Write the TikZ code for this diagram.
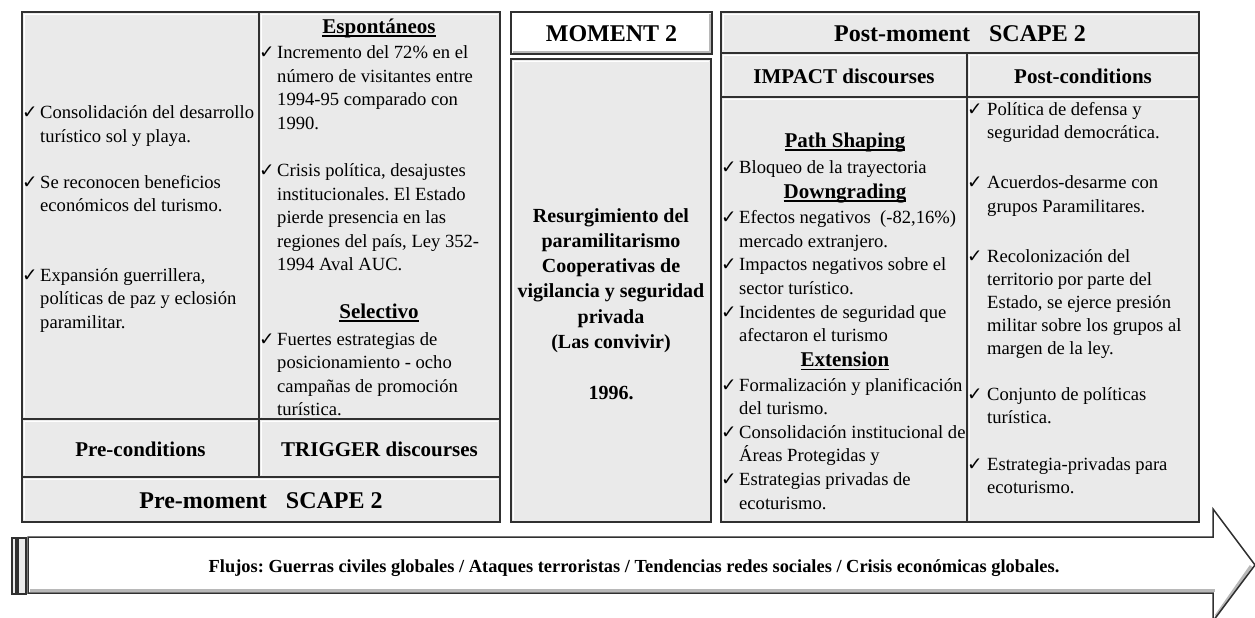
\documentclass[tikz,border=0pt]{standalone}
\usepackage{fontspec}
\setmainfont{Liberation Serif}
\newfontfamily\ckfont{DejaVu Sans}
\definecolor{cellgray}{HTML}{EAEAEA}
\definecolor{framecol}{HTML}{303030}
\definecolor{shadecol}{HTML}{B8B8B8}
\frenchspacing
\newcommand{\ck}{\makebox[17pt][l]{\hspace*{-1pt}\ckfont\fontsize{18.5}{18.5}\selectfont ✓}}
\newcommand{\cks}{\makebox[19pt][l]{\hspace*{-1pt}\ckfont\fontsize{18.5}{18.5}\selectfont ✓}}
\newcommand{\lns}[2]{\vtop{\fontsize{18.6}{#1}\selectfont\lineskiplimit=-50pt\lineskip=0pt\halign{##\hfil&##\hfil\cr #2\crcr}}}
\newcommand{\ctrlns}[2]{\vtop{\fontsize{20}{#1}\selectfont\bfseries\lineskiplimit=-50pt\lineskip=0pt\halign{\hfil##\hfil\cr #2\crcr}}}
\newcommand{\undl}[1]{\setbox0\hbox{#1}\rlap{\rule[-3.5pt]{\wd0}{1.5pt}}\box0}
\begin{document}
\begin{tikzpicture}[x=1pt,y=-1pt,
  cell/.style={fill=cellgray},
  whitecell/.style={fill=white},
  frame/.style={draw=framecol, line width=1.5pt},
  hilite/.style={draw=white, line width=1.5pt},
  shadeln/.style={draw=shadecol, line width=2pt},
  txt/.style={inner sep=0pt, anchor=base west},
  ctr/.style={inner sep=0pt, anchor=base},
  hbig/.style={font=\fontsize{24}{28}\selectfont\bfseries},
  hmed/.style={font=\fontsize{21}{25}\selectfont\bfseries},
  hfoot/.style={font=\fontsize{18.4}{22}\selectfont\bfseries},
  ]
\useasboundingbox (0,0) rectangle (1255,618);
\fill[white] (0,0) rectangle (1255,618);

% ---------- Left panel ----------
\fill[cell] (22,12) rectangle (500,522);
\foreach \xa/\ya/\xb/\yb in {22/12/259/419, 259/12/500/419, 22/419/259/477, 259/419/500/477, 22/477/500/522}
  \draw[hilite] (\xa+2.5,\yb-2.5) -- (\xa+2.5,\ya+2.5) -- (\xb-2.5,\ya+2.5);
\draw[frame] (22,12) rectangle (500,522);
\draw[frame] (259,12) -- (259,477);
\draw[frame] (22,419) -- (500,419);
\draw[frame] (22,477) -- (500,477);

% ---------- Middle panel ----------
\fill[whitecell] (511,12) rectangle (712,54);
\draw[shadeln, line width=1.5pt] (513,51.8) -- (709.8,51.8) -- (709.8,14);
\fill[cell] (511,59) rectangle (711,522);
\draw[hilite] (513.5,519.5) -- (513.5,61.5) -- (708.5,61.5);
\draw[frame] (511,12) rectangle (712,54);
\draw[frame] (511,59) rectangle (711,522);

% ---------- Right panel ----------
\fill[cell] (721,12) rectangle (1199,522);
\foreach \xa/\ya/\xb/\yb in {721/12/1199/53, 721/53/967/97, 967/53/1199/97, 721/97/967/522, 967/97/1199/522}
  \draw[hilite] (\xa+2.5,\yb-2.5) -- (\xa+2.5,\ya+2.5) -- (\xb-2.5,\ya+2.5);
\draw[frame] (721,12) rectangle (1199,522);
\draw[frame] (721,53) -- (1199,53);
\draw[frame] (721,97) -- (1199,97);
\draw[frame] (967,53) -- (967,522);

% ---------- Bottom arrow ----------
\fill[cellgray] (12,538) rectangle (16,594);
\draw[framecol, line width=1.2pt] (12,538) rectangle (16,594);
\fill[cellgray] (18,538) rectangle (26,594);
\draw[framecol, line width=1.2pt] (18,538) rectangle (26,594);
\fill[white] (28,537) -- (1213,537) -- (1213,509) -- (1255,565) -- (1213,621) -- (1213,593) -- (28,593) -- cycle;
\draw[shadeln, line width=3pt] (30,590) -- (1215,590);
\draw[shadeln, line width=3pt] (1216,616) -- (1251,566);
\draw[frame] (28,537) -- (1213,537) -- (1213,509) -- (1255,565) -- (1213,621) -- (1213,593) -- (28,593) -- cycle;

% ---------- Left texts ----------
\node[txt] (pc1) at (23,118.8) {\lns{23.4}{\ck & Consolidación del desarrollo\cr & turístico sol y playa.}};
\node[txt] (pc2) at (23,188.5) {\lns{23.4}{\ck & Se reconocen beneficios\cr & económicos del turismo.}};
\node[txt] (pc3) at (23,281.5) {\lns{23.4}{\ck & Expansión guerrillera,\cr & políticas de paz y eclosión\cr & paramilitar.}};

\node[ctr, hmed] (esp) at (379,33.5) {\undl{Espontáneos}};
\node[txt] (es1) at (260,59) {\lns{23.5}{\ck & Incremento del 72\% en el\cr & número de visitantes entre\cr & 1994-95 comparado con\cr & 1990.}};
\node[txt] (es2) at (260,176.5) {\lns{23.5}{\ck & Crisis política, desajustes\cr & institucionales. El Estado\cr & pierde presencia en las\cr & regiones del país, Ley 352-\cr & 1994 Aval AUC.}};
\node[ctr, hmed] (sel) at (379,318) {\undl{Selectivo}};
\node[txt] (se1) at (260,345) {\lns{23.5}{\ck & Fuertes estrategias de\cr & posicionamiento - ocho\cr & campañas de promoción\cr & turística.}};

\node[ctr, hmed] (prec) at (140.5,456) {Pre-conditions};
\node[ctr, hmed] (trig) at (379.5,456) {TRIGGER discourses};
\node[ctr, hbig] (prem) at (261,508.5) {Pre-moment\hspace{13pt} SCAPE 2};

% ---------- Middle texts ----------
\node[ctr, hbig] (mom) at (611.5,41.5) {MOMENT 2};
\node[ctr] (res) at (611,222) {\ctrlns{25.3}{Resurgimiento del\cr paramilitarismo\cr Cooperativas de\cr vigilancia y seguridad\cr privada\cr (Las convivir)\cr \cr 1996.}};

% ---------- Right texts ----------
\node[ctr, hbig] (post) at (960,41.5) {Post-moment\hspace{13pt} SCAPE 2};
\node[ctr, hmed] (imp) at (844,83) {IMPACT discourses};
\node[ctr, hmed] (pcond) at (1083,83) {Post-conditions};

\node[ctr, hmed] (ps) at (845,147.3) {\undl{Path Shaping}};
\node[txt] (ps1) at (722,173.3) {\lns{23.7}{\ck & Bloqueo de la trayectoria}};
\node[ctr, hmed] (dg) at (845,198.3) {\undl{Downgrading}};
\node[txt] (dg1) at (722,223.3) {\lns{23.7}{\ck & Efectos negativos\ \ (-82,16\%)\cr & mercado extranjero.\cr \ck & Impactos negativos sobre el\cr & sector turístico.\cr \ck & Incidentes de seguridad que\cr & afectaron el turismo}};
\node[ctr, hmed] (ext) at (845,366.7) {\undl{Extension}};
\node[txt] (ex1) at (722,391) {\lns{23.6}{\ck & Formalización y planificación\cr & del turismo.\cr \ck & Consolidación institucional de\cr & Áreas Protegidas y\cr \ck & Estrategias privadas de\cr & ecoturismo.}};

\node[txt] (po1) at (968,115.3) {\lns{23.5}{\cks & Política de defensa y\cr & seguridad democrática.}};
\node[txt] (po2) at (968,188.7) {\lns{23.5}{\cks & Acuerdos-desarme con\cr & grupos Paramilitares.}};
\node[txt] (po3) at (968,262) {\lns{23}{\cks & Recolonización del\cr & territorio por parte del\cr & Estado, se ejerce presión\cr & militar sobre los grupos al\cr & margen de la ley.}};
\node[txt] (po4) at (968,400) {\lns{23.5}{\cks & Conjunto de políticas\cr & turística.}};
\node[txt] (po5) at (968,470) {\lns{23.5}{\cks & Estrategia-privadas para\cr & ecoturismo.}};

% ---------- Footer ----------
\node[ctr, hfoot] (flu) at (634,572) {Flujos: Guerras civiles globales / Ataques terroristas / Tendencias redes sociales / Crisis económicas globales.};
\end{tikzpicture}
\end{document}
